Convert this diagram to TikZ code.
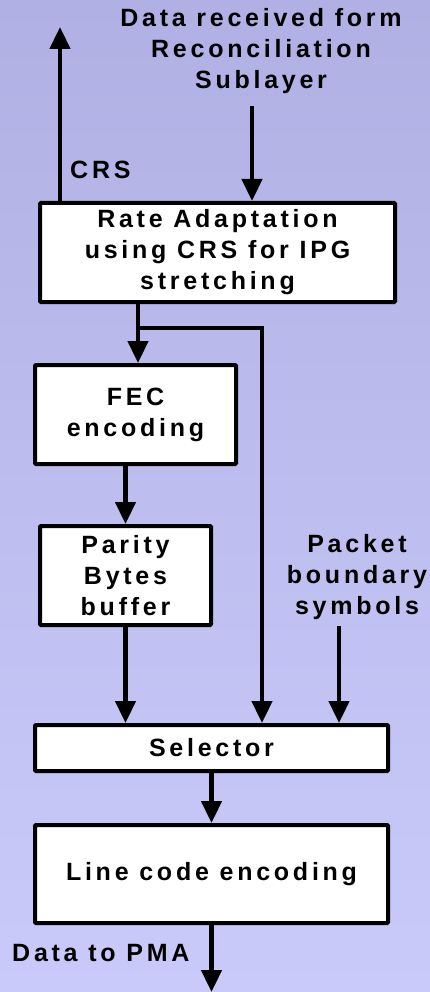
\documentclass[tikz,border=0pt]{standalone}
\usepackage{fontspec}
\setmainfont{Liberation Sans}[LetterSpace=15]
\usetikzlibrary{arrows.meta}
\definecolor{bgtop}{RGB}{176,176,228}
\definecolor{bgbot}{RGB}{202,202,250}
\begin{document}
\begin{tikzpicture}[x=1pt,y=-1pt,
  lbl/.style={font=\bfseries\fontsize{25}{31}\selectfont, align=center, inner sep=0pt},
  blk/.style={draw, line width=4pt, fill=white, rounded corners=1pt, lbl},
  flow/.style={line width=4.6pt, -{Triangle[width=20pt,length=22pt]}}]
% background
\shade[top color=bgtop,bottom color=bgbot] (0,0) rectangle (430,992);
\useasboundingbox (0,0) rectangle (430,992);

% processing blocks
\node[blk, minimum width=355pt, minimum height=99pt] (rate) at (217.5,252.5)
  {Rate Adaptation\\using CRS for IPG\\stretching};
\node[blk, minimum width=201pt, minimum height=99pt] (fec) at (135.5,414.5)
  {FEC\\encoding};
\node[blk, minimum width=171pt, minimum height=99pt] (par) at (125.5,575.5)
  {Parity\\Bytes\\buffer};
\node[blk, minimum width=353pt, minimum height=46pt] (sel) at (211.5,748)
  {Selector};
\node[blk, minimum width=353pt, minimum height=98pt] (line) at (211.5,874)
  {Line code encoding};

% free labels
\node[lbl] (src) at (261,51) {Data received form\\Reconciliation\\Sublayer};
\node[lbl, anchor=west] (crs) at (70,170) {CRS};
\node[lbl] (pkt) at (357,577) {Packet\\boundary\\symbols};
\node[lbl, anchor=west] (pma) at (12,953) {Data to PMA};

% free ends and bends
\coordinate (inTop) at (252,106);
\coordinate (crsTop) at (60,27);
\coordinate (split) at (138,328);
\coordinate (bypass) at (262,328);
\coordinate (pktTop) at (339,626);
\coordinate (out) at (212,992);

% connectors
\draw[flow] (inTop) -- (inTop |- rate.north);
\draw[flow] (rate.north -| crsTop) -- (crsTop);
\draw[flow] (rate.south -| split) -- (fec.north -| split);
\draw[flow] (split) -- (bypass) -- (bypass |- sel.north);
\draw[flow] (fec.south -| par.north) -- (par.north);
\draw[flow] (par.south) -- (sel.north -| par.south);
\draw[flow] (pktTop) -- (pktTop |- sel.north);
\draw[flow] (sel.south) -- (line.north);
\draw[flow] (line.south) -- (line.south |- out);
\end{tikzpicture}
\end{document}
